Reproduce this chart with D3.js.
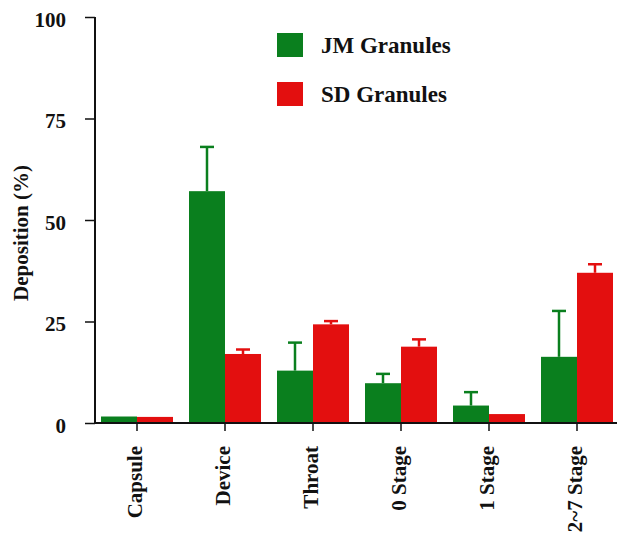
<!DOCTYPE html>
<html>
<head>
<meta charset="utf-8">
<script src="https://cdn.jsdelivr.net/npm/d3@7"></script>
<style>
  body { margin: 0; background: #fff; }
  text { font-family: "Liberation Serif", "Times New Roman", serif; font-weight: bold; fill: #111; }
</style>
</head>
<body>
<svg width="617" height="535"></svg>
<script>
// chart data
var categories = ["Capsule", "Device", "Throat", "0 Stage", "1 Stage", "2~7 Stage"];
var seriesNames = ["JM Granules", "SD Granules"];
var jmValues = [1.6, 57.1, 12.9, 9.8, 4.3, 16.3];
var jmErrors = [0, 10.9, 6.9, 2.3, 3.3, 11.3];
var sdValues = [1.5, 17.0, 24.3, 18.8, 2.2, 37.0];
var sdErrors = [0, 1.1, 0.8, 1.8, 0, 2.1];
var yTicks = [0, 25, 50, 75, 100];
var colors = ["#0a7f1e", "#e30f0f"];

function main(){
    var svg = d3.select("svg");

    // scales
    var yScale = d3.scaleLinear().domain([0, 100]).range([423, 17]);
    var xScale = d3.scaleBand().domain(categories).range([93, 621]).padding(0);
    var inner = d3.scaleBand().domain(seriesNames)
        .range([xScale.bandwidth() / 2 - 36, xScale.bandwidth() / 2 + 36]);

    // rows for drawing
    var rows = [];
    categories.forEach(function(c, i){
        rows.push({cat: c, s: 0, v: jmValues[i], e: jmErrors[i]});
        rows.push({cat: c, s: 1, v: sdValues[i], e: sdErrors[i]});
    });

    // error bars (drawn first, bar covers the lower part)
    var err = svg.append("g").selectAll("g").data(rows.filter(function(d){ return d.e > 0; }))
        .enter().append("g")
        .attr("stroke", function(d){ return colors[d.s]; })
        .attr("stroke-width", 2.5);
    err.append("line")
        .attr("x1", function(d){ return xScale(d.cat) + inner(seriesNames[d.s]) + inner.bandwidth() / 2; })
        .attr("x2", function(d){ return xScale(d.cat) + inner(seriesNames[d.s]) + inner.bandwidth() / 2; })
        .attr("y1", function(d){ return yScale(d.v); })
        .attr("y2", function(d){ return yScale(d.v + d.e); });
    err.append("line")
        .attr("x1", function(d){ return xScale(d.cat) + inner(seriesNames[d.s]) + inner.bandwidth() / 2 - 7; })
        .attr("x2", function(d){ return xScale(d.cat) + inner(seriesNames[d.s]) + inner.bandwidth() / 2 + 7; })
        .attr("y1", function(d){ return yScale(d.v + d.e); })
        .attr("y2", function(d){ return yScale(d.v + d.e); });

    // bars
    svg.append("g").selectAll("rect").data(rows).enter().append("rect")
        .attr("x", function(d){ return xScale(d.cat) + inner(seriesNames[d.s]); })
        .attr("y", function(d){ return yScale(d.v); })
        .attr("width", inner.bandwidth())
        .attr("height", function(d){ return yScale(0) - yScale(d.v); })
        .attr("fill", function(d){ return colors[d.s]; });

    // y axis
    var yAxis = svg.append("g").attr("transform", "translate(95,0)")
        .call(d3.axisLeft(yScale).tickValues(yTicks).tickSize(10).tickPadding(19));
    yAxis.select(".domain").attr("stroke", "#111").attr("stroke-width", 2).attr("d", "M0,17V423");
    yAxis.selectAll(".tick line").attr("stroke", "#111").attr("stroke-width", 1.5);
    yAxis.selectAll(".tick text").attr("font-size", "21px").attr("dy", "0.45em")
        .style("font-family", "'Liberation Serif', serif").style("font-weight", "bold").attr("fill", "#111");

    // x axis
    var xAxis = svg.append("g").attr("transform", "translate(0,423)")
        .call(d3.axisBottom(xScale).tickSize(8).tickSizeOuter(0));
    xAxis.select(".domain").attr("stroke", "#111").attr("stroke-width", 2).attr("d", "M95,0H617");
    xAxis.selectAll(".tick line").attr("stroke", "#111").attr("stroke-width", 1.5);
    xAxis.selectAll(".tick text")
        .attr("font-size", "21px")
        .style("font-family", "'Liberation Serif', serif").style("font-weight", "bold").attr("fill", "#111")
        .attr("text-anchor", "end")
        .attr("transform", "rotate(-90)")
        .attr("x", -23).attr("y", 0).attr("dy", "0.22em");

    // y title
    svg.append("text")
        .attr("transform", "translate(28,233) rotate(-90)")
        .attr("text-anchor", "middle")
        .attr("font-size", "21px")
        .text("Deposition (%)");

    // legend
    var legend = svg.append("g").selectAll("g").data(seriesNames).enter().append("g")
        .attr("transform", function(d, i){ return "translate(277," + (33 + i * 49) + ")"; });
    legend.append("rect").attr("width", 26).attr("height", 24)
        .attr("fill", function(d, i){ return colors[i]; });
    legend.append("text").attr("x", 44).attr("y", 20).attr("font-size", "23px")
        .text(function(d){ return d; });
}
main();
</script>
</body>
</html>
